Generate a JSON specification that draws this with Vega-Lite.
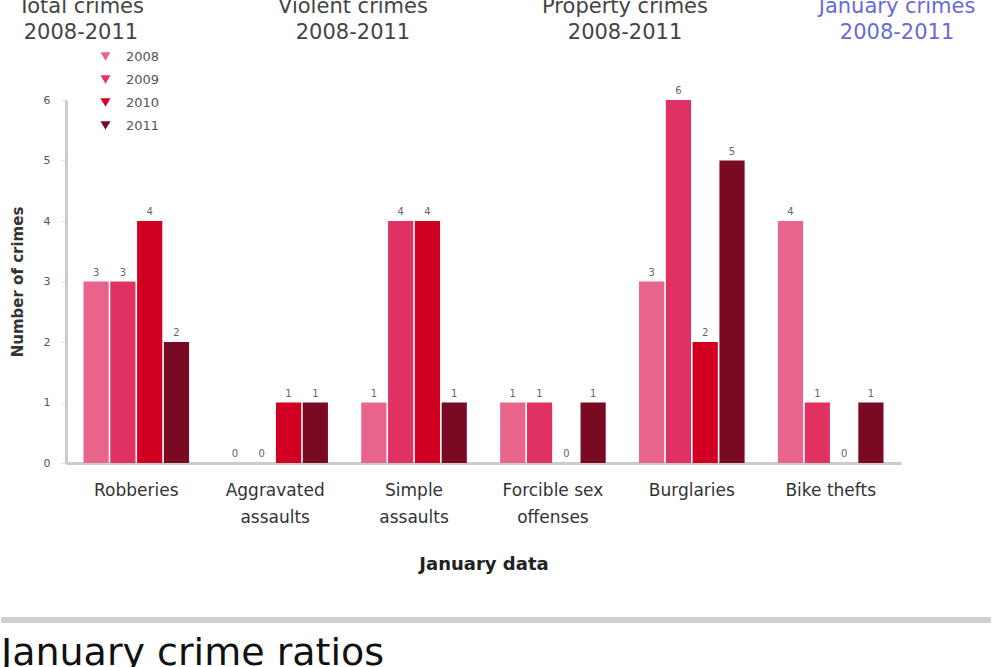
{
  "$schema": "https://vega.github.io/schema/vega-lite/v6.json",
  "padding": {"left": 0, "top": -13, "right": 0, "bottom": 0},
  "background": "white",
  "config": {"view": {"stroke": null}, "font": "DejaVu Sans"},
  "datasets": {
    "tabs": [
      {"tab": "Total crimes", "label": "Total crimes\n2008-2011"},
      {"tab": "Violent crimes", "label": "Violent crimes\n2008-2011"},
      {"tab": "Property crimes", "label": "Property crimes\n2008-2011"},
      {"tab": "January crimes", "label": "January crimes\n2008-2011"}
    ],
    "crimes": [
      {"crime": "Robberies", "year": "2008", "count": 3},
      {"crime": "Robberies", "year": "2009", "count": 3},
      {"crime": "Robberies", "year": "2010", "count": 4},
      {"crime": "Robberies", "year": "2011", "count": 2},
      {"crime": "Aggravated assaults", "year": "2008", "count": 0},
      {"crime": "Aggravated assaults", "year": "2009", "count": 0},
      {"crime": "Aggravated assaults", "year": "2010", "count": 1},
      {"crime": "Aggravated assaults", "year": "2011", "count": 1},
      {"crime": "Simple assaults", "year": "2008", "count": 1},
      {"crime": "Simple assaults", "year": "2009", "count": 4},
      {"crime": "Simple assaults", "year": "2010", "count": 4},
      {"crime": "Simple assaults", "year": "2011", "count": 1},
      {"crime": "Forcible sex offenses", "year": "2008", "count": 1},
      {"crime": "Forcible sex offenses", "year": "2009", "count": 1},
      {"crime": "Forcible sex offenses", "year": "2010", "count": 0},
      {"crime": "Forcible sex offenses", "year": "2011", "count": 1},
      {"crime": "Burglaries", "year": "2008", "count": 3},
      {"crime": "Burglaries", "year": "2009", "count": 6},
      {"crime": "Burglaries", "year": "2010", "count": 2},
      {"crime": "Burglaries", "year": "2011", "count": 5},
      {"crime": "Bike thefts", "year": "2008", "count": 4},
      {"crime": "Bike thefts", "year": "2009", "count": 1},
      {"crime": "Bike thefts", "year": "2010", "count": 0},
      {"crime": "Bike thefts", "year": "2011", "count": 1}
    ],
    "footer": [{"start": 0, "end": 1}]
  },
  "spacing": 44,
  "resolve": {"legend": {"color": "independent"}},
  "vconcat": [
    {
      "spacing": 7,
      "resolve": {"legend": {"color": "independent"}},
      "vconcat": [
        {
          "data": {"name": "tabs"},
          "width": 846,
          "height": 40,
          "mark": {"type": "text", "fontSize": 21, "lineBreak": "\n", "lineHeight": 26, "baseline": "middle"},
          "encoding": {
            "x": {"field": "tab", "type": "nominal", "sort": null, "scale": {"type": "point", "padding": 0.055}, "axis": null},
            "text": {"field": "label"},
            "color": {"condition": {"test": "datum.tab === 'January crimes'", "value": "#6a6ad8"}, "value": "#444444"}
          }
        },
        {
          "data": {"name": "crimes"},
          "width": 835,
          "height": 363,
          "encoding": {
            "x": {
              "field": "crime", "type": "nominal", "sort": null,
              "scale": {"paddingInner": 0.24, "paddingOuter": 0.126},
              "title": "January data",
              "axis": {
                "labelAngle": 0, "labelFontSize": 17, "labelColor": "#333333", "labelPadding": 19,
                "labelBaseline": "top", "labelLineHeight": 27,
                "ticks": false, "domainColor": "#cccccc", "domainWidth": 3,
                "titleFontSize": 18, "titleFontWeight": "bold", "titleColor": "#222222", "titlePadding": 30,
                "labelExpr": "datum.label == 'Aggravated assaults' ? ['Aggravated', 'assaults'] : datum.label == 'Simple assaults' ? ['Simple', 'assaults'] : datum.label == 'Forcible sex offenses' ? ['Forcible sex', 'offenses'] : datum.label"
              }
            },
            "xOffset": {"field": "year", "type": "nominal", "scale": {"paddingInner": 0.06}},
            "y": {
              "field": "count", "type": "quantitative",
              "scale": {"domain": [0, 6]},
              "title": "Number of crimes",
              "axis": {
                "values": [0, 1, 2, 3, 4, 5, 6], "grid": false,
                "labelFontSize": 11, "labelColor": "#555555", "labelPadding": 11,
                "domainColor": "#cccccc", "domainWidth": 3,
                "tickColor": "#dddddd", "tickSize": 5,
                "titleFontSize": 15, "titleFontWeight": "bold", "titleColor": "#333333", "titlePadding": 18
              }
            }
          },
          "layer": [
            {
              "mark": {"type": "bar"},
              "encoding": {
                "color": {
                  "field": "year", "type": "nominal",
                  "scale": {"domain": ["2008", "2009", "2010", "2011"], "range": ["#e8648a", "#e03262", "#d10022", "#7a0a24"]},
                  "legend": {
                    "orient": "none", "legendX": 33, "legendY": -50, "title": null,
                    "symbolType": "triangle-down", "symbolSize": 100, "symbolStrokeWidth": 0,
                    "labelFontSize": 13, "labelColor": "#555555", "rowPadding": 9, "labelOffset": 14
                  }
                }
              }
            },
            {
              "mark": {"type": "text", "dy": -9, "fontSize": 10, "color": "#666666"},
              "encoding": {"text": {"field": "count", "type": "quantitative"}}
            }
          ]
        }
      ]
    },
    {
      "data": {"name": "footer"},
      "width": 925,
      "height": 6,
      "mark": {"type": "rect", "color": "#d0d0d0"},
      "encoding": {
        "x": {"field": "start", "type": "quantitative", "scale": {"domain": [0.0657, 1]}, "axis": null},
        "x2": {"field": "end"}
      },
      "title": {"text": "January crime ratios", "orient": "bottom", "anchor": "start", "frame": "bounds", "fontSize": 38, "fontWeight": "normal", "color": "#111111", "offset": 12}
    }
  ]
}
